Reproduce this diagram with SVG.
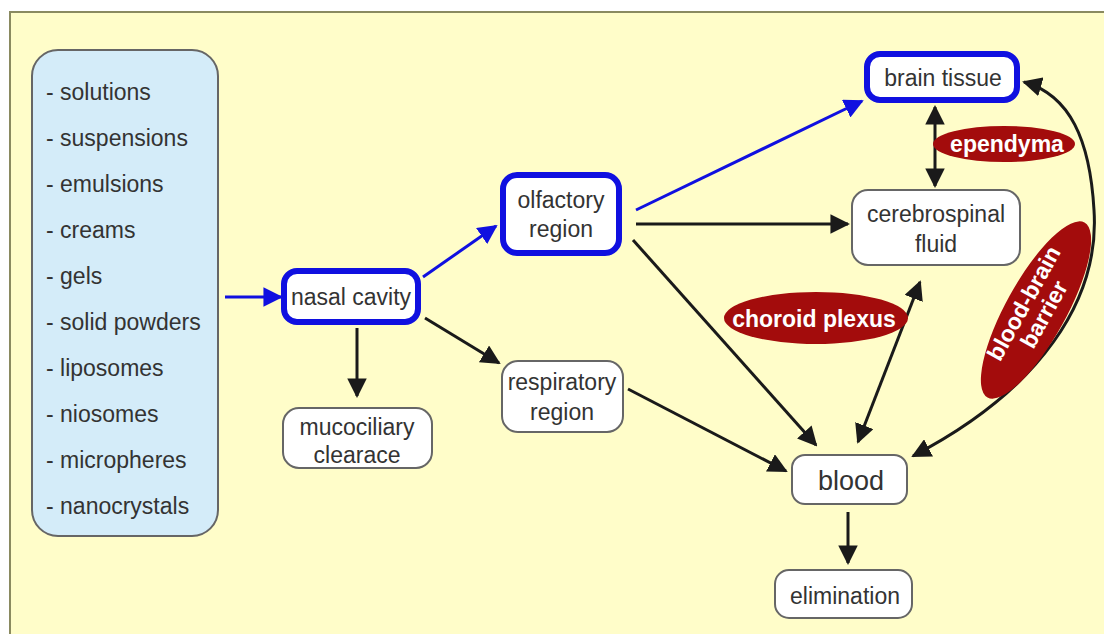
<svg xmlns="http://www.w3.org/2000/svg" width="1104" height="634" viewBox="0 0 1104 634">
<defs>
<marker id="ah" viewBox="0 0 10 10" refX="9" refY="5" markerWidth="6.5" markerHeight="6.5" orient="auto-start-reverse" markerUnits="strokeWidth"><path d="M0,0 L10,5 L0,10 z" fill="#1a1a1a"/></marker>
<marker id="ahb" viewBox="0 0 10 10" refX="9" refY="5" markerWidth="6.5" markerHeight="6.5" orient="auto-start-reverse" markerUnits="strokeWidth"><path d="M0,0 L10,5 L0,10 z" fill="#1010e0"/></marker>
</defs>
<style>
text{font-family:"Liberation Sans",Arial,sans-serif;fill:#333;}
.t{font-size:23px;text-anchor:middle;}
.li{font-size:23px;}
.box{fill:#fff;stroke:#666;stroke-width:2;}
.bbox{fill:#fff;stroke:#1010e0;stroke-width:6;}
.ell{fill:#a30c0c;}
.et{font-size:23px;font-weight:bold;fill:#fff;text-anchor:middle;}
.c{fill:none;stroke:#1a1a1a;stroke-width:3;}
.cb{fill:none;stroke:#1010e0;stroke-width:3;}
</style>
<rect x="0" y="0" width="1104" height="634" fill="#fff"/>
<rect x="10" y="12" width="1100" height="630" fill="#fffdc9" stroke="#8a8a60" stroke-width="2"/>

<g id="forms">
<rect x="32" y="50" width="186" height="486" rx="26" fill="#d4ecf9" stroke="#666" stroke-width="2"/>
<text class="li" x="46" y="100">- solutions</text>
<text class="li" x="46" y="146">- suspensions</text>
<text class="li" x="46" y="192">- emulsions</text>
<text class="li" x="46" y="238">- creams</text>
<text class="li" x="46" y="284">- gels</text>
<text class="li" x="46" y="330">- solid powders</text>
<text class="li" x="46" y="376">- liposomes</text>
<text class="li" x="46" y="422">- niosomes</text>
<text class="li" x="46" y="468">- micropheres</text>
<text class="li" x="46" y="514">- nanocrystals</text>
</g>

<g id="connectors">
<line class="cb" x1="225" y1="297" x2="281" y2="297" marker-end="url(#ahb)"/>
<line class="cb" x1="423" y1="277" x2="496" y2="226" marker-end="url(#ahb)"/>
<line class="cb" x1="636" y1="210" x2="862" y2="101" marker-end="url(#ahb)"/>
<line class="c" x1="636" y1="224" x2="848" y2="224" marker-end="url(#ah)"/>
<line class="c" x1="633" y1="240" x2="816" y2="445" marker-end="url(#ah)"/>
<line class="c" x1="357" y1="328" x2="357" y2="396" marker-end="url(#ah)"/>
<line class="c" x1="425" y1="318" x2="499" y2="363" marker-end="url(#ah)"/>
<line class="c" x1="628" y1="389" x2="786" y2="471" marker-end="url(#ah)"/>
<line class="c" x1="858" y1="442" x2="920" y2="282" marker-start="url(#ah)" marker-end="url(#ah)"/>
<line class="c" x1="935" y1="107" x2="935" y2="186" marker-start="url(#ah)" marker-end="url(#ah)"/>
<path class="c" d="M913,456 C1040,390 1100,300 1094,210 C1090,140 1070,95 1024,82" marker-start="url(#ah)" marker-end="url(#ah)"/>
<line class="c" x1="848" y1="512" x2="848" y2="563" marker-end="url(#ah)"/>
</g>

<g id="nasal">
<rect class="bbox" x="284" y="271" width="134" height="51" rx="13"/>
<text class="t" x="351" y="305">nasal cavity</text>
</g>
<g id="olfactory">
<rect class="bbox" x="503" y="175" width="116" height="78" rx="14"/>
<text class="t" x="561" y="208">olfactory</text>
<text class="t" x="561" y="237">region</text>
</g>
<g id="brain">
<rect class="bbox" x="867" y="54" width="150" height="46" rx="13"/>
<text class="t" x="943" y="86">brain tissue</text>
</g>
<g id="csf">
<rect class="box" x="852" y="190" width="168" height="75" rx="16"/>
<text class="t" x="936" y="222">cerebrospinal</text>
<text class="t" x="936" y="252">fluid</text>
</g>
<g id="respiratory">
<rect class="box" x="502" y="361" width="121" height="71" rx="16"/>
<text class="t" x="562" y="390">respiratory</text>
<text class="t" x="562" y="420">region</text>
</g>
<g id="mucociliary">
<rect class="box" x="283" y="408" width="149" height="60" rx="16"/>
<text class="t" x="357" y="435">mucociliary</text>
<text class="t" x="357" y="463">clearace</text>
</g>
<g id="blood">
<rect class="box" x="792" y="455" width="115" height="49" rx="13"/>
<text class="t" x="851" y="490" style="font-size:27px">blood</text>
</g>
<g id="elimination">
<rect class="box" x="775" y="570" width="137" height="48" rx="14"/>
<text class="t" x="845" y="604">elimination</text>
</g>

<g id="ependyma">
<ellipse class="ell" cx="1004" cy="144" rx="71" ry="18"/>
<text class="et" x="1007" y="152">ependyma</text>
</g>
<g id="choroid">
<ellipse class="ell" cx="816" cy="318" rx="92" ry="26"/>
<text class="et" x="814" y="327">choroid plexus</text>
</g>
<g id="bbb">
<ellipse class="ell" cx="1036" cy="310" rx="100" ry="30" transform="rotate(-61 1036 310)"/>
<g transform="rotate(-61 1036 310)">
<text class="et" x="1036" y="304">blood-brain</text>
<text class="et" x="1036" y="327">barrier</text>
</g>
</g>
</svg>
